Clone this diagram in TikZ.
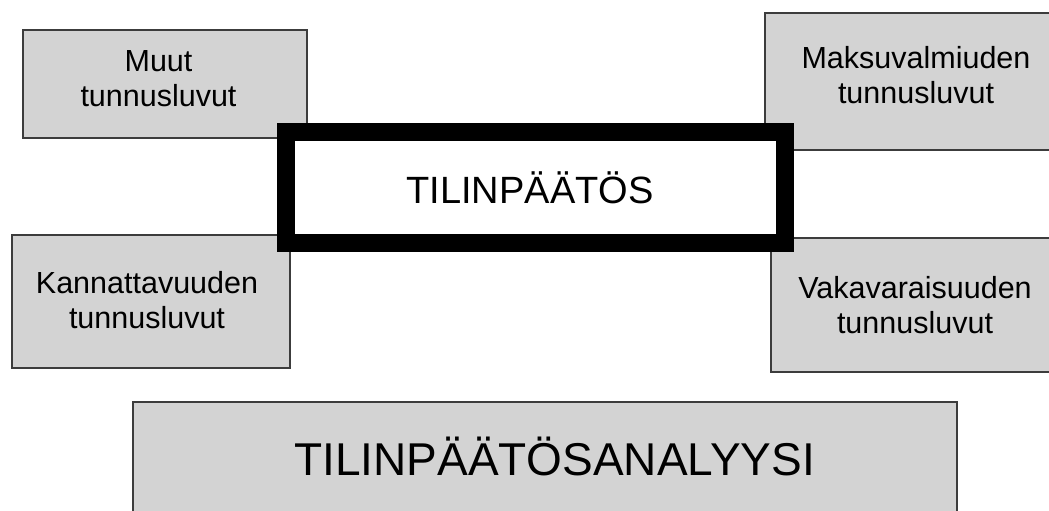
\documentclass[tikz,border=0pt]{standalone}
\usepackage{fontspec}
\setmainfont{Liberation Sans}
\definecolor{boxfill}{RGB}{211,211,211}
\definecolor{boxline}{RGB}{60,60,60}
\tikzset{
  ratiobox/.style={draw=boxline, line width=2pt, fill=boxfill, inner sep=0pt},
  mainbox/.style={draw=black, line width=18pt, fill=white, inner sep=0pt},
  smalltext/.style={inner sep=0pt, align=center, font=\fontsize{30.5}{35}\selectfont},
  maintext/.style={inner sep=0pt, anchor=base, font=\fontsize{38}{44}\selectfont},
  bigtext/.style={inner sep=0pt, anchor=base, font=\fontsize{46}{54}\selectfont}
}
\begin{document}
\begin{tikzpicture}[x=1pt,y=-1pt]
\useasboundingbox (0,0) rectangle (1049,511);

% four groups of ratios around the financial statement
\node[ratiobox, minimum width=284pt, minimum height=108pt] (muut) at (165,84) {};
\node[smalltext] (muutT) at (158.5,79) {Muut\\tunnusluvut};

\node[ratiobox, minimum width=290pt, minimum height=137pt] (maksu) at (910,81.5) {};
\node[smalltext] (maksuT) at (916,75) {Maksuvalmiuden\\tunnusluvut};

\node[ratiobox, minimum width=278pt, minimum height=133pt] (kann) at (151,301.5) {};
\node[smalltext] (kannT) at (147,300) {Kannattavuuden\\tunnusluvut};

\node[ratiobox, minimum width=284pt, minimum height=134pt] (vaka) at (913,305) {};
\node[smalltext] (vakaT) at (915,305) {Vakavaraisuuden\\tunnusluvut};

% the financial statement in the middle
\node[mainbox, minimum width=499pt, minimum height=111pt] (tp) at (535.5,187.5) {};
\node[maintext] (tpT) at (530,203) {TILINPÄÄTÖS};

% the analysis at the bottom
\node[ratiobox, minimum width=824pt, minimum height=120pt] (analyysi) at (545,462) {};
\node[bigtext] (analyysiT) at (554.5,475) {TILINPÄÄTÖSANALYYSI};
\end{tikzpicture}
\end{document}
